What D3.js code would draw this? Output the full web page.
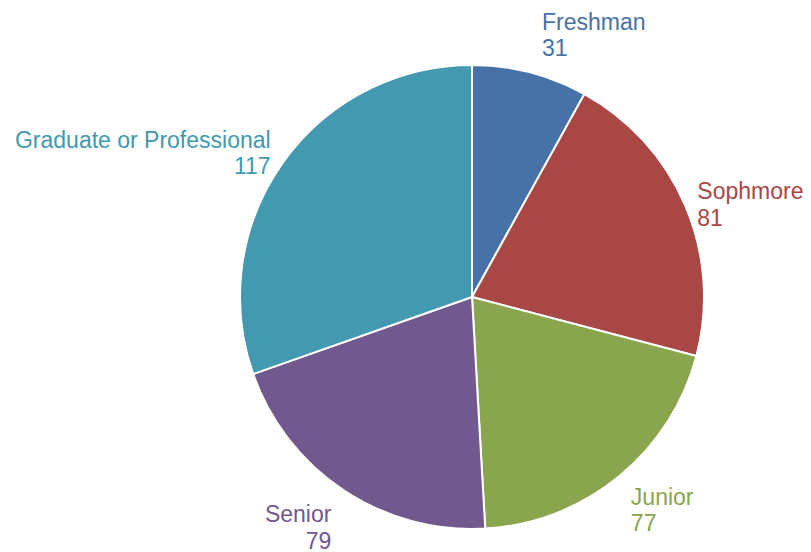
<!DOCTYPE html>
<html>
<head>
<meta charset="utf-8">
<script src="https://cdn.jsdelivr.net/npm/d3@7"></script>
<style>
  html, body { margin: 0; padding: 0; background: #fff; }
  svg { display: block; }
  text { font-family: "Liberation Sans", Arial, Helvetica, sans-serif; }
</style>
</head>
<body>
<svg id="chart" width="811" height="552"></svg>
<script>
// Student classification counts
const categories = ["Freshman", "Sophmore", "Junior", "Senior", "Graduate or Professional"];
const counts = [31, 81, 77, 79, 117];
const colors = ["#4672a7", "#a94744", "#89a54e", "#71588f", "#4299b0"];

const W = 811, H = 552;
const cx = 472, cy = 297, R = 232;
const fontSize = 23, lineGap = 26.3;

const svg = d3.select("#chart");
const g = svg.append("g").attr("transform", `translate(${cx},${cy})`);

const data = categories.map((c, i) => ({ name: c, value: counts[i], color: colors[i] }));

const pie = d3.pie().value(d => d.value).sort(null);
const arc = d3.arc().innerRadius(0).outerRadius(R);
const arcs = pie(data);

g.selectAll("path.slice")
  .data(arcs)
  .join("path")
  .attr("class", "slice")
  .attr("d", arc)
  .attr("fill", d => d.data.color)
  .attr("stroke", "#fff")
  .attr("stroke-width", 2);

// Outside labels: placed off the slice's mid-point on the rim,
// pushed sideways by half the label width and vertically by cos^2 of the angle.
const measure = svg.append("text").attr("font-size", fontSize).attr("visibility", "hidden");
function textWidth(s) { measure.text(s); return measure.node().getComputedTextLength(); }

arcs.forEach(a => {
  const mid = (a.startAngle + a.endAngle) / 2;
  const sx = Math.sin(mid), cyv = -Math.cos(mid);
  const ex = R * sx, ey = R * cyv;
  const lines = [a.data.name, String(a.data.value)];
  const w = Math.max(...lines.map(textWidth));
  const h = 48;
  const right = ex >= 0;
  const boxCx = ex + (right ? 1 : -1) * (w / 2 + h / 4);
  const cos2 = Math.cos(mid) ** 2;
  const boxCy = ey + (ey >= 0 ? 1 : -1) * 46 * cos2;
  const b1 = boxCy + 0.5;
  const anchorX = right ? boxCx - w / 2 : boxCx + w / 2;
  const t = g.append("text")
    .attr("font-size", fontSize)
    .attr("fill", a.data.color)
    .attr("text-anchor", right ? "start" : "end");
  lines.forEach((ln, i) => {
    t.append("tspan").attr("x", anchorX).attr("y", b1 + i * lineGap).text(ln);
  });
});
measure.remove();
</script>
</body>
</html>
